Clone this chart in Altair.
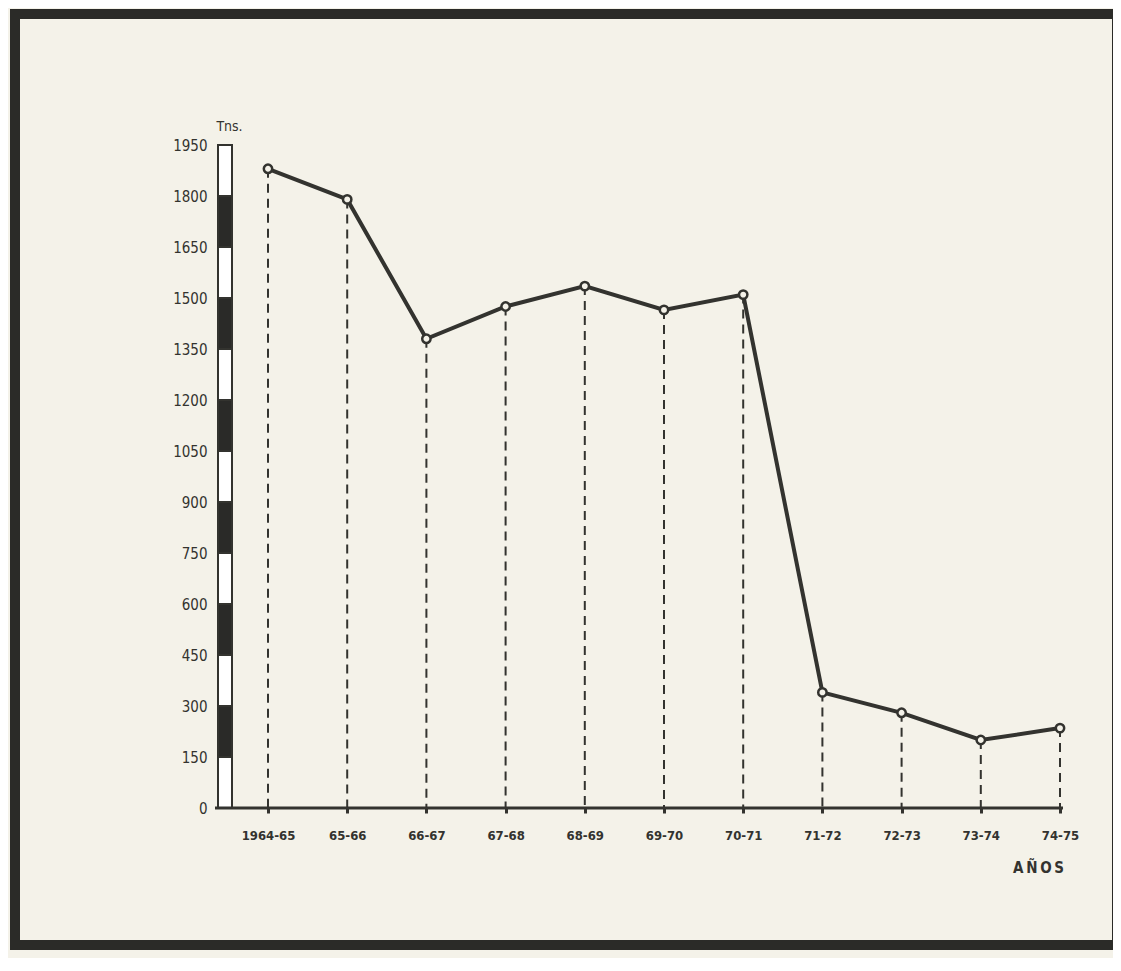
import altair as alt
import pandas as pd

years = ["1964-65", "65-66", "66-67", "67-68", "68-69", "69-70", "70-71",
         "71-72", "72-73", "73-74", "74-75"]
tons = [1880, 1790, 1380, 1475, 1535, 1465, 1510, 340, 280, 200, 235]

y_ticks = list(range(0, 1951, 150))
seg_start = y_ticks[:-1]
seg_end = y_ticks[1:]
seg_fill = ["white" if i % 2 == 0 else "#2a2a28" for i in range(len(seg_start))]

df = pd.DataFrame({"year": years, "tons": tons, "zero": [0] * len(years)})
segs = pd.DataFrame({"a": seg_start, "b": seg_end, "fill": seg_fill})

ink = "#33332f"
font = "DejaVu Sans Condensed"
bg = "#f4f2e9"

x_scale = alt.Scale(type="point", range=[53, 845], padding=0)
y_scale = alt.Scale(domain=[0, 1950], nice=False)

x_enc = alt.X("year:N", sort=years, scale=x_scale,
              axis=alt.Axis(title="A\u2009Ñ\u2009O\u2009S", titleX=823, titleY=52,
                            titleAnchor="middle", titleFontSize=15, titleFontWeight="bold",
                            titleColor=ink, titleFont=font,
                            labelAngle=0, labelFontSize=13, labelFontWeight="bold",
                            labelColor=ink, labelFont=font, labelPadding=16,
                            domain=False, tickColor=ink,
                            tickSize=5, tickWidth=3, grid=False))

base = alt.Chart(df)

rules = base.mark_rule(color=ink, strokeWidth=2, strokeDash=[9, 6]).encode(
    x=x_enc,
    y=alt.Y("tons:Q", scale=y_scale,
            axis=alt.Axis(values=y_ticks, format="d", title="Tns.", titleAngle=0,
                          titleX=14, titleY=-12,
                          titleAlign="center", titleFontSize=14, titleFontWeight="normal",
                          titleColor=ink, titleFont=font,
                          labelFontSize=15, labelColor=ink, labelFont=font,
                          labelPadding=8, ticks=False, domain=False, grid=False)),
    y2="zero:Q",
)

baseline = alt.Chart(pd.DataFrame({"z": [0]})).mark_rule(color=ink, strokeWidth=3).encode(
    x=alt.value(0), x2=alt.value(848), y=alt.Y("z:Q", scale=y_scale))

bar = alt.Chart(segs).mark_rect(stroke=ink, strokeWidth=2).encode(
    x=alt.value(3), x2=alt.value(17),
    y=alt.Y("a:Q", scale=y_scale), y2="b:Q",
    fill=alt.Fill("fill:N", scale=None),
)

line = base.mark_line(color=ink, strokeWidth=4).encode(
    x=alt.X("year:N", sort=years, scale=x_scale), y=alt.Y("tons:Q", scale=y_scale))

pts = base.mark_point(shape="circle", size=70, filled=True, fill=bg,
                      stroke=ink, strokeWidth=2.5, opacity=1).encode(
    x=alt.X("year:N", sort=years, scale=x_scale), y=alt.Y("tons:Q", scale=y_scale))

frame = alt.Chart(pd.DataFrame({"k": [0]})).mark_rect(
    fill=None, stroke="#2b2b28", strokeWidth=10, clip=False).encode(
    x=alt.value(-200), x2=alt.value(902), y=alt.value(-131), y2=alt.value(800))

chart = alt.layer(frame, bar, rules, baseline, line, pts).properties(
    width=865, height=663,
    autosize=alt.AutoSizeParams(type="none"),
    padding={"left": 207, "top": 137, "right": 33, "bottom": 150},
    background=bg,
).configure_view(stroke=None)

chart.save("out.html", embed_options={"renderer": "svg", "actions": False})
